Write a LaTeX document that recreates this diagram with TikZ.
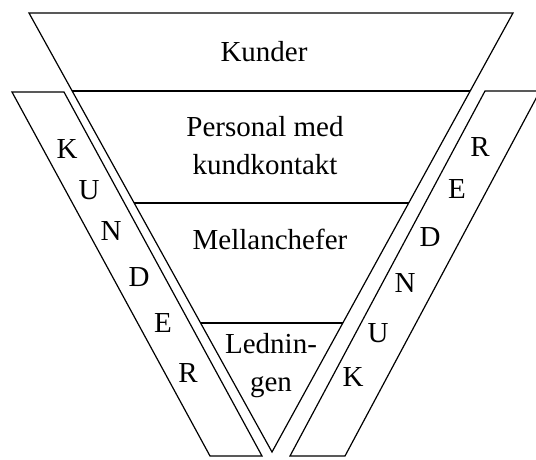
\documentclass[tikz,border=0pt]{standalone}
\usepackage{fontspec}
\setmainfont{Liberation Serif}
\usetikzlibrary{calc}

\begin{document}
\begin{tikzpicture}[x=1pt,y=-1pt,
  edge/.style={line width=1.2pt,line join=miter},
  lbl/.style={font=\fontsize{29}{38}\selectfont,align=center,inner sep=0pt},
  letter/.style={font=\fontsize{29}{33}\selectfont,inner sep=0pt}]
  \clip (0,0) rectangle (536,459);
  % the funnel
  \coordinate (tl) at (29,13);
  \coordinate (tr) at (513,13);
  \coordinate (apex) at (272,452);
  \draw[edge] (tl) -- (tr) -- (apex) -- cycle;
  \draw[edge] ($(tl)!0.1777!(apex)$) -- ($(tr)!0.1777!(apex)$);
  \draw[edge] ($(tl)!0.4328!(apex)$) -- ($(tr)!0.4328!(apex)$);
  \draw[edge] ($(tl)!0.7062!(apex)$) -- ($(tr)!0.7062!(apex)$);
  \node[lbl] (kunder) at (264,52) {Kunder};
  \node[lbl] (personal) at (265,146) {Personal med\\kundkontakt};
  \node[lbl] (mellan) at (270,239) {Mellanchefer};
  \node[lbl] (ledning) at (271,366) {Lednin-\\gen};
  % side bands
  \draw[edge] (12,92) -- (64,92) -- (262,456) -- (210,456) -- cycle;
  \draw[edge] (485,91) -- (540,91) -- (345,456) -- (290,456) -- cycle;
  \foreach \c/\x/\y [count=\i] in {K/67/149,U/89/190,N/111/231,D/139/277,E/163/323,R/188/373}
    \node[letter] (left\i) at (\x,\y) {\c};
  \foreach \c/\x/\y [count=\i] in {R/480/147,E/457/189,D/430/237,N/405/283,U/378/333,K/353/377}
    \node[letter] (right\i) at (\x,\y) {\c};
\end{tikzpicture}
\end{document}
